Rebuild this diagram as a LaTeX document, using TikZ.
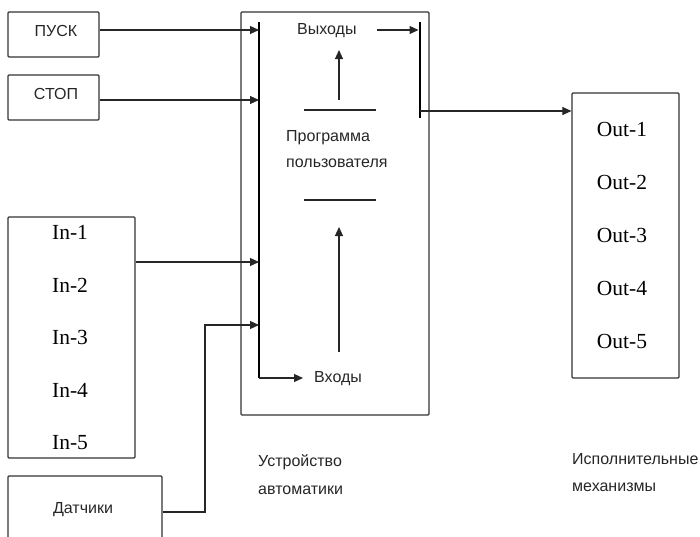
\documentclass[tikz,border=0pt]{standalone}
\usepackage{fontspec}
\setmainfont{Liberation Sans}
\newfontfamily\serifin{Liberation Serif}
\usetikzlibrary{arrows.meta,calc}
\begin{document}
\begin{tikzpicture}[x=1pt,y=-1pt,
  box/.style={draw=black!80,line width=1.2pt,rounded corners=1pt,inner sep=0pt},
  lbl/.style={font=\fontsize{16}{18}\selectfont,text=black!85,inner sep=0pt},
  io/.style={font=\serifin\fontsize{21.5}{24}\selectfont,text=black,inner sep=0pt},
  conn/.style={draw=black!85,line width=1.1pt},
  arr/.style={conn,-{Triangle[length=9pt,width=8pt]}},
  bus/.style={draw=black,line width=2.6pt}]
\useasboundingbox (0,0) rectangle (700,536);
\clip (0,0) rectangle (700,536);
% boxes
\node[box,minimum width=91pt,minimum height=45pt] (pusk) at (53.5,34.5) {};
\node[lbl] (puskt) at (56,31) {ПУСК};
\node[box,minimum width=91pt,minimum height=45pt] (stop) at (53.5,97.5) {};
\node[lbl] (stopt) at (56,94) {СТОП};
\node[box,minimum width=127pt,minimum height=241pt] (in) at (71.5,337.5) {};
\foreach \i/\y in {1/232,2/285,3/337,4/390,5/443}
  \node[io] (in\i) at (70,\y) {In-\i};
\node[box,minimum width=154pt,minimum height=72pt] (dat) at (85,512) {};
\node[lbl] (datt) at (83,510) {Датчики};
\node[box,minimum width=188pt,minimum height=403pt] (dev) at (335,213.5) {};
\node[box,minimum width=107pt,minimum height=285pt] (out) at (625.5,235.5) {};
\foreach \i/\y in {1/129,2/182,3/235,4/288,5/341}
  \node[io] (out\i) at (622,\y) {Out-\i};
% bus lines
\coordinate (bt) at (259,22);
\coordinate (bb) at (259,378);
\draw[bus] (bt) -- (bb);
\coordinate (ot) at (420,22);
\coordinate (ob) at (420,118);
\draw[bus] (ot) -- (ob);
% inner texts
\node[lbl,anchor=west] (vhody) at (314,379) {Входы};
\node[lbl,anchor=west] (vyh) at (297,31) {Выходы};
\node[lbl,align=left,anchor=west] (prog) at (286,138) {Программа};
\node[lbl,align=left,anchor=west] (polz) at (286,163) {пользователя};
\coordinate (l1a) at (304,110); \coordinate (l1b) at (376,110);
\coordinate (l2a) at (304,200); \coordinate (l2b) at (376,200);
\draw[conn] (l1a) -- (l1b);
\draw[conn] (l2a) -- (l2b);
\coordinate (u1a) at (339,100); \coordinate (u1b) at (339,50);
\coordinate (u2a) at (339,352); \coordinate (u2b) at (339,227);
\draw[arr] (u1a) -- (u1b);
\draw[arr] (u2a) -- (u2b);
% connectors
\coordinate (y30) at (0,30);
\coordinate (y100) at (0,100);
\coordinate (y262) at (0,262);
\coordinate (y325) at (0,325);
\coordinate (y111) at (0,111);
\draw[arr] (pusk.east |- y30) -- (bt |- y30);
\draw[arr] (stop.east |- y100) -- (bt |- y100);
\draw[arr] (in.east |- y262) -- (bt |- y262);
\coordinate (sA) at (205,325);
\draw[arr] (dat.east) -| (sA) -- (bt |- y325);
\coordinate (vhA) at (303,378);
\draw[arr] (bb) -- (vhA);
\coordinate (vyA) at (377,30);
\draw[arr] (vyA) -- ([xshift=-1.5pt]ot |- y30);
\draw[arr] (ot |- y111) -- (out.west |- y111);
% captions
\node[lbl,align=left,anchor=west] (ustr) at (258,462) {Устройство};
\node[lbl,align=left,anchor=west] (avto) at (258,490) {автоматики};
\node[lbl,align=left,anchor=west] (isp) at (572,459) {Исполнительные};
\node[lbl,align=left,anchor=west] (meh) at (572,487) {механизмы};
\end{tikzpicture}
\end{document}
